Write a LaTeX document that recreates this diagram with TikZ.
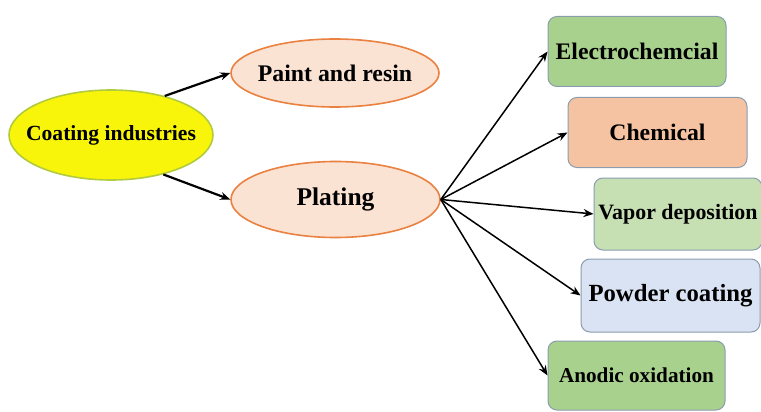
\documentclass[tikz,border=0pt]{standalone}
\usepackage{fontspec}
\setmainfont{Liberation Serif}
\usetikzlibrary{shapes.geometric,arrows.meta}
\definecolor{coatfill}{HTML}{F9F50A}
\definecolor{coatline}{HTML}{B2CB3E}
\definecolor{ovalfill}{HTML}{FBE3D4}
\definecolor{ovalline}{HTML}{EA8140}
\definecolor{boxline}{HTML}{8A9DAE}
\definecolor{darkgreen}{HTML}{A9D18E}
\definecolor{lightgreen}{HTML}{C6E0B4}
\definecolor{peach}{HTML}{F6C3A2}
\definecolor{paleblue}{HTML}{DAE3F3}
\newcommand{\fsz}[1]{\fontsize{#1}{#1}\selectfont\bfseries}
\tikzstyle{oval} = [ellipse, inner xsep=-16pt, inner ysep=0pt, text centered, draw=ovalline, fill=ovalfill, line width=1.6pt]
\tikzstyle{method} = [rectangle, rounded corners=9pt, inner sep=0pt, text centered, draw=boxline, line width=1pt, minimum width=178pt, minimum height=70pt]
\tikzstyle{arrow} = [line width=1.5pt,-{Stealth[length=10pt,width=8pt]}]
\begin{document}
\begin{tikzpicture}[x=1pt,y=-1pt]
  \useasboundingbox [fill=white] (0,0) rectangle (761,412);
  \node (coat) [oval, draw=coatline, fill=coatfill, minimum width=204pt, minimum height=90pt, font=\fsz{21.6}] at (111,135) {Coating industries};
  \node (paint) [oval, minimum width=208pt, minimum height=68pt, font=\fsz{23.8}] at (335,73) {Paint and resin};
  \node (plating) [oval, minimum width=209pt, minimum height=76pt, font=\fsz{25.5}] at (335.5,199.5) {Plating};

  \node (electro) [method, fill=darkgreen, font=\fsz{23.7}] at (637,51.5) {Electrochemcial};
  \node (chem) [method, fill=peach, minimum width=179pt, font=\fsz{23.7}] at (657.5,132.5) {Chemical};
  \node (vapor) [method, fill=lightgreen, minimum width=168pt, minimum height=72pt, font=\fsz{21.9}] at (678,214) {Vapor deposition};
  \node (powder) [method, fill=paleblue, minimum width=179pt, minimum height=73pt, font=\fsz{24.7}] at (670.5,295.5) {Powder coating};
  \node (anodic) [method, fill=darkgreen, minimum width=177pt, minimum height=69pt, font=\fsz{21.2}] at (636.5,375.5) {Anodic oxidation};

  \draw [arrow, line width=2.2pt] (coat.36) -- (paint.west);
  \draw [arrow, line width=2.2pt] (coat.-37) -- (plating.west);

  \draw [arrow] (plating.east) -- (electro.west);
  \draw [arrow] (plating.east) -- (chem.west);
  \draw [arrow] (plating.east) -- (vapor.west);
  \draw [arrow] (plating.east) -- (powder.west);
  \draw [arrow] (plating.east) -- (anodic.west);
\end{tikzpicture}
\end{document}
